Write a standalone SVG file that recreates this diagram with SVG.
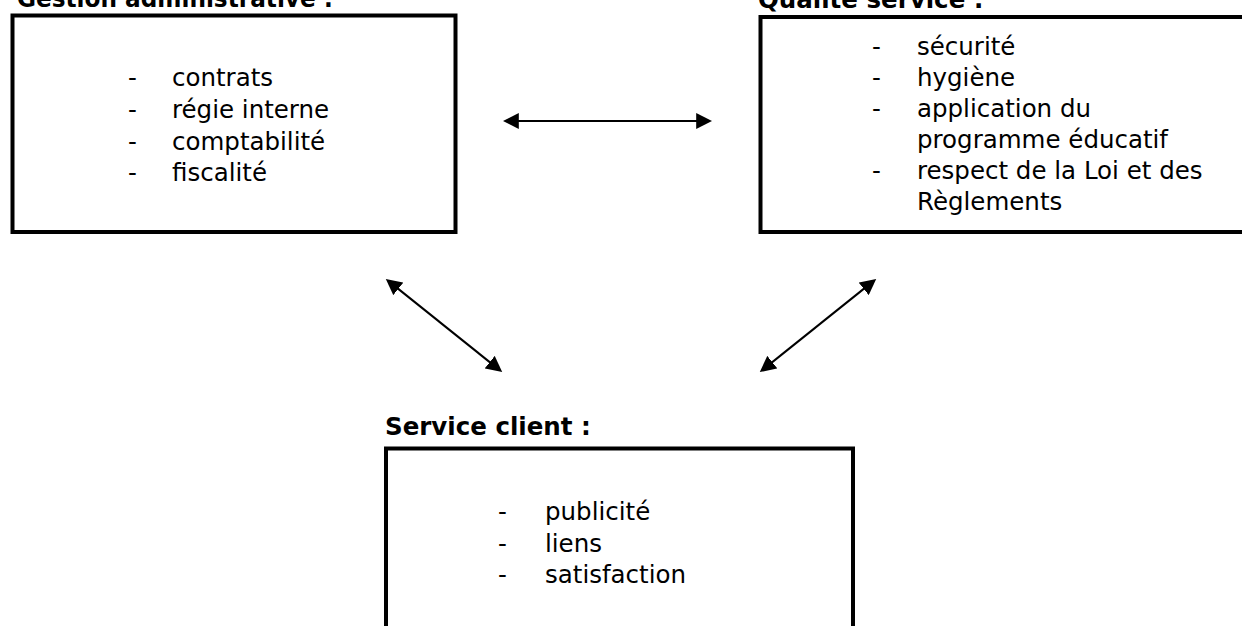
<svg xmlns="http://www.w3.org/2000/svg" width="1242" height="626" viewBox="0 0 1242 626">
<style>
.box{fill:#fff;stroke:#000;stroke-width:4}
.t{font-family:"DejaVu Sans","Liberation Sans",sans-serif;font-size:24.5px;fill:#000}
.h{font-family:"DejaVu Sans","Liberation Sans",sans-serif;font-size:24.5px;font-weight:bold;fill:#000}
.c{stroke:#000;stroke-width:2;fill:none;marker-start:url(#ah);marker-end:url(#ah)}
</style>
<defs>
<marker id="ah" markerUnits="userSpaceOnUse" markerWidth="16" markerHeight="16" viewBox="0 0 15 15" refX="12" refY="7.5" orient="auto-start-reverse">
<path d="M0,0 L15,7.5 L0,15 Z" fill="#000"/>
</marker>
</defs>
<rect width="1242" height="626" fill="#fff"/>
<g id="gestion">
<text class="h" x="17" y="7" textLength="316" lengthAdjust="spacingAndGlyphs">Gestion administrative :</text>
<rect class="box" x="12.5" y="15.5" width="443" height="216.5"/>
<g class="t">
<text x="128" y="86">-</text><text x="172" y="86">contrats</text>
<text x="128" y="117.8">-</text><text x="172" y="117.8">régie interne</text>
<text x="128" y="149.6">-</text><text x="172" y="149.6">comptabilité</text>
<text x="128" y="181.4">-</text><text x="172" y="181.4">fiscalité</text>
</g>
</g>
<g id="qualite">
<text class="h" x="758" y="8">Qualité service :</text>
<rect class="box" x="760.5" y="17" width="520" height="215"/>
<g class="t">
<text x="872" y="55">-</text><text x="917" y="55">sécurité</text>
<text x="872" y="86">-</text><text x="917" y="86">hygiène</text>
<text x="872" y="117">-</text><text x="917" y="117">application du</text>
<text x="917" y="148">programme éducatif</text>
<text x="872" y="179">-</text><text x="917" y="179">respect de la Loi et des</text>
<text x="917" y="210">Règlements</text>
</g>
</g>
<g id="client">
<text class="h" x="385" y="435">Service client :</text>
<rect class="box" x="386" y="448.5" width="467" height="220"/>
<g class="t">
<text x="498" y="520">-</text><text x="545" y="520">publicité</text>
<text x="498" y="551.5">-</text><text x="545" y="551.5">liens</text>
<text x="498" y="583">-</text><text x="545" y="583">satisfaction</text>
</g>
</g>
<g id="connectors">
<line class="c" x1="506" y1="121" x2="709" y2="121"/>
<line class="c" x1="388.3" y1="280.9" x2="499.7" y2="370.1"/>
<line class="c" x1="762.3" y1="370.1" x2="873.7" y2="280.9"/>
</g>
</svg>
